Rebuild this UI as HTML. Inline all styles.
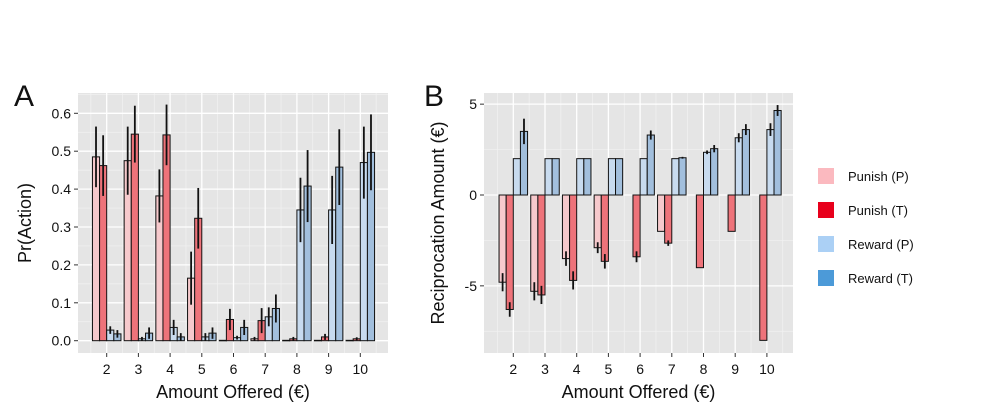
<!DOCTYPE html>
<html><head><meta charset="utf-8"><style>
body{margin:0;background:#fff;}
svg{display:block;font-family:"Liberation Sans",sans-serif;}
</style></head><body>
<svg id="c" width="995" height="412"></svg>
<script>
const categories=[2,3,4,5,6,7,8,9,10];
const seriesNames=["Punish (P)","Punish (T)","Reward (P)","Reward (T)"];
const aPunishP=[0.485,0.475,0.382,0.165,0.001,0.005,0.001,0.001,0.001];
const aPunishT=[0.462,0.545,0.543,0.323,0.056,0.053,0.005,0.010,0.005];
const aRewardP=[0.028,0.005,0.035,0.010,0.008,0.063,0.345,0.345,0.470];
const aRewardT=[0.018,0.020,0.010,0.020,0.035,0.085,0.408,0.458,0.497];
const aErrPP=[0.08,0.09,0.07,0.07,0,0.005,0,0,0];
const aErrPT=[0.08,0.075,0.08,0.08,0.028,0.033,0.005,0.008,0.004];
const aErrRP=[0.01,0.005,0.02,0.01,0.005,0.025,0.085,0.09,0.095];
const aErrRT=[0.01,0.015,0.01,0.015,0.02,0.037,0.095,0.1,0.1];
const bPunishP=[-4.8,-5.3,-3.5,-2.9,0,-2,0,0,0];
const bPunishT=[-6.3,-5.5,-4.7,-3.65,-3.4,-2.65,-4,-2,-8];
const bRewardP=[2,2,2,2,2,2,2.35,3.15,3.6];
const bRewardT=[3.5,2,2,2,3.3,2.05,2.55,3.6,4.65];
const bErrPP=[0.5,0.5,0.4,0.3,0,0,0,0,0];
const bErrPT=[0.4,0.5,0.5,0.4,0.3,0.15,0,0,0];
const bErrRP=[0,0,0,0,0,0,0.1,0.25,0.35];
const bErrRT=[0.7,0,0,0,0.25,0.05,0.2,0.3,0.3];
const aTicks=[0,0.1,0.2,0.3,0.4,0.5,0.6];
const bTicks=[-5,0,5];
const fills=["#f6c9cc","#ee737a","#c8dbef","#a2bfdd"];
const legendFills=["#fbb9bf","#e8001c","#abd0f5","#4c9ad8"];

const svg=document.getElementById('c');
const NS="http://www.w3.org/2000/svg";
function el(tag,attrs,parent){const e=document.createElementNS(NS,tag);for(const k in attrs)e.setAttribute(k,attrs[k]);(parent||svg).appendChild(e);return e;}

function panel(cfg){
  const g=el('g',{});
  
  
  const L=cfg.left,R=cfg.right,T=93,B=353;
  const y=v=>cfg.y0+(v)*cfg.ppu*-1;
  const x=c=>cfg.x2+(c-2)*31.7;
  const bg=el('rect',{x:L,y:T,width:R-L,height:B-T,fill:'#e5e5e5'},g);
  
  cfg.minor.forEach(v=>el('line',{x1:L,x2:R,y1:y(v),y2:y(v),stroke:'#f2f2f2','stroke-width':0.7},g));
  for(let c=1.5;c<=10.5;c+=1)el('line',{x1:x(c),x2:x(c),y1:T,y2:B,stroke:'#f2f2f2','stroke-width':0.7},g);
  cfg.ticks.forEach(v=>el('line',{x1:L,x2:R,y1:y(v),y2:y(v),stroke:'#fff','stroke-width':1.3},g));
  categories.forEach(c=>el('line',{x1:x(c),x2:x(c),y1:T,y2:B,stroke:'#fff','stroke-width':1.3},g));
  const bw=28.5/4;
  categories.forEach((c,i)=>{
    cfg.series.forEach((s,j)=>{
      const v=s[i];const x0=x(c)-14.25+j*bw;
      if(cfg.hideZero && v===0) return;
      const y1=Math.min(y(v),y(0)),h=Math.abs(y(v)-y(0));
      const r=el('rect',{x:x0,y:y1,width:bw,height:Math.max(h,0.5),fill:fills[j],stroke:'#111','stroke-width':1},g);
      
      const e=cfg.errs[j][i];
      if(e>0){const ln=el('line',{x1:x0+bw/2,x2:x0+bw/2,y1:y(v-e),y2:y(v+e),stroke:'#111','stroke-width':1.8},g);
        }
    });
  });
  cfg.ticks.forEach(v=>{
    el('line',{x1:L-4,x2:L,y1:y(v),y2:y(v),stroke:'#333'},g);
    const t=el('text',{x:L-7,y:y(v)+5,'text-anchor':'end','font-size':14,fill:'#111'},g);
    t.textContent=cfg.fmt(v);
  });
  categories.forEach(c=>{
    el('line',{x1:x(c),x2:x(c),y1:B,y2:B+4,stroke:'#333'},g);
    const t=el('text',{x:x(c),y:B+21,'text-anchor':'middle','font-size':14,fill:'#111'},g);
    t.textContent=c;
  });
  const xt=el('text',{x:(L+R)/2,y:B+45,'text-anchor':'middle','font-size':18,fill:'#111'},g);
  xt.textContent="Amount Offered (€)";
  const yt=el('text',{x:0,y:0,'text-anchor':'middle','font-size':18,fill:'#111',transform:`translate(${cfg.ytx},${(T+B)/2}) rotate(-90)`},g);
  yt.textContent=cfg.ytitle;
  const lb=el('text',{x:cfg.labx,y:106,'font-size':30,fill:'#111'},g);
  lb.textContent=cfg.label;
}
panel({name:'panel-a',left:78,right:388,y0:340.7,ppu:379,x2:106.7,ticks:aTicks,minor:[0.05,0.15,0.25,0.35,0.45,0.55,0.65],
  series:[aPunishP,aPunishT,aRewardP,aRewardT],errs:[aErrPP,aErrPT,aErrRP,aErrRT],fmt:v=>v.toFixed(1),
  ytitle:'Pr(Action)',ytx:31,label:'A',labx:14,hideZero:false});
panel({name:'panel-b',left:484,right:793,y0:195,ppu:18.17,x2:513.3,ticks:bTicks,minor:[-7.5,-2.5,2.5],
  series:[bPunishP,bPunishT,bRewardP,bRewardT],errs:[bErrPP,bErrPT,bErrRP,bErrRT],fmt:v=>String(v),
  ytitle:'Reciprocation Amount (€)',ytx:444,label:'B',labx:424,hideZero:true});
const lg=el('g',{});


seriesNames.forEach((n,i)=>{
  const r=el('rect',{x:818,y:168+i*34,width:16,height:16,fill:legendFills[i]},lg);
  
  const t=el('text',{x:848,y:181+i*34,'font-size':13,fill:'#111'},lg);
  t.textContent=n;
});
</script>
</body></html>
